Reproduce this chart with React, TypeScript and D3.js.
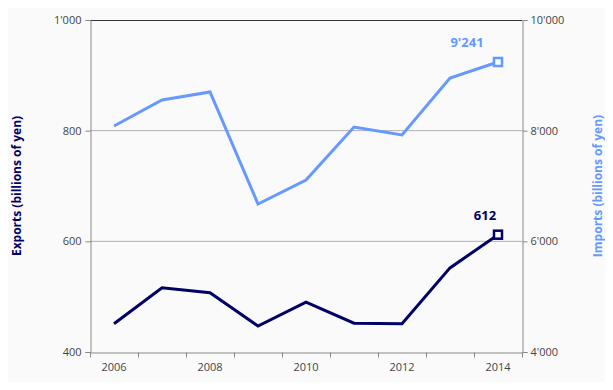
import { useRef, useEffect } from "react";
import * as d3 from "d3";

const years = ["2006", "2007", "2008", "2009", "2010", "2011", "2012", "2013", "2014"];
const exportsVals = [451, 516, 507, 447, 490, 452, 451, 552, 612];
const importsVals = [8084, 8554, 8699, 6675, 7108, 8066, 7922, 8952, 9241];
const leftTicks = [400, 600, 800, 1000];
const rightTicks = [4000, 6000, 8000, 10000];
const xTickLabels = ["2006", "2008", "2010", "2012", "2014"];

const navy = "#000066";
const blue = "#6699ff";

const fmt = (v: number) => {
  const s = String(v);
  return s.length > 3 ? s.slice(0, s.length - 3) + "'" + s.slice(-3) : s;
};

const App = () => {
  const svgRef = useRef<SVGSVGElement>(null);

  useEffect(() => {
    const w = 613;
    const h = 390;
    const m = { top: 20, right: 91, bottom: 38, left: 90 };
    const svg = d3.select(svgRef.current).attr("width", w).attr("height", h);
    svg.selectAll("*").remove();

    svg.append("rect").attr("width", w).attr("height", h).attr("fill", "#fafafa");

    const x = d3.scaleBand().domain(years).range([m.left, w - m.right]);
    const yL = d3.scaleLinear().domain([400, 1000]).range([h - m.bottom, m.top]);
    const yR = d3.scaleLinear().domain([4000, 10000]).range([h - m.bottom, m.top]);
    const font = "'Open Sans', sans-serif";

    // gridlines
    svg
      .append("g")
      .selectAll("line")
      .data([600, 800])
      .join("line")
      .attr("x1", m.left)
      .attr("x2", w - m.right)
      .attr("y1", (d) => yL(d))
      .attr("y2", (d) => yL(d))
      .attr("stroke", "#b0b0b0")
      .attr("stroke-width", 1);

    // top border
    svg
      .append("line")
      .attr("x1", m.left)
      .attr("x2", w - m.right)
      .attr("y1", m.top + 0.5)
      .attr("y2", m.top + 0.5)
      .attr("stroke", "#333");

    const leftAxis = d3.axisLeft(yL).tickValues(leftTicks).tickSize(5).tickFormat((d) => fmt(d as number));
    const gl = svg.append("g").attr("transform", `translate(${m.left + 0.5},0)`).call(leftAxis);
    const rightAxis = d3.axisRight(yR).tickValues(rightTicks).tickSize(5).tickFormat((d) => fmt(d as number));
    const gr = svg.append("g").attr("transform", `translate(${w - m.right + 0.5},0)`).call(rightAxis);

    const xAxis = d3.axisBottom(x).tickSize(0).tickFormat((d) => (xTickLabels.includes(d as string) ? d : ""));
    const gx = svg.append("g").attr("transform", `translate(0,${h - m.bottom + 0.5})`).call(xAxis);
    // boundary ticks
    gx.append("g")
      .selectAll("line")
      .data(years.map((d) => x(d)!).concat([w - m.right]))
      .join("line")
      .attr("x1", (d) => d + 0.5)
      .attr("x2", (d) => d + 0.5)
      .attr("y1", 0)
      .attr("y2", 5)
      .attr("stroke", "#888");

    [gl, gr, gx].forEach((g) => {
      g.select(".domain").attr("stroke", "#888");
      g.selectAll(".tick line").attr("stroke", "#888");
      g.selectAll("text").attr("fill", "#444").style("font-family", font).style("font-size", "11px");
    });
    gx.selectAll(".tick text").attr("dy", "1.4em");
    gl.selectAll(".tick text").attr("dx", "-1px");

    // axis titles
    svg
      .append("text")
      .attr("transform", `translate(21,${(m.top + h - m.bottom) / 2}) rotate(-90)`)
      .attr("text-anchor", "middle")
      .style("font-family", font)
      .style("font-size", "12px")
      .style("font-weight", "bold")
      .attr("fill", navy)
      .text("Exports (billions of yen)");
    svg
      .append("text")
      .attr("transform", `translate(602,${(m.top + h - m.bottom) / 2}) rotate(-90)`)
      .attr("text-anchor", "middle")
      .style("font-family", font)
      .style("font-size", "12px")
      .style("font-weight", "bold")
      .attr("fill", blue)
      .text("Imports (billions of yen)");

    const cx = (d: string) => x(d)! + x.bandwidth() / 2;
    const lineL = d3.line<number>().x((d, i) => cx(years[i])).y((d) => yL(d));
    const lineR = d3.line<number>().x((d, i) => cx(years[i])).y((d) => yR(d));

    svg.append("path").attr("d", lineR(importsVals)).attr("fill", "none").attr("stroke", blue).attr("stroke-width", 3);
    svg.append("path").attr("d", lineL(exportsVals)).attr("fill", "none").attr("stroke", navy).attr("stroke-width", 3);

    const last = years.length - 1;
    const markers = [
      { x: cx(years[last]), y: yR(importsVals[last]), c: blue, t: fmt(importsVals[last]), dx: -31 },
      { x: cx(years[last]), y: yL(exportsVals[last]), c: navy, t: fmt(exportsVals[last]), dx: -13 },
    ];
    markers.forEach((mk) => {
      svg
        .append("rect")
        .attr("x", mk.x - 4)
        .attr("y", mk.y - 4)
        .attr("width", 8)
        .attr("height", 8)
        .attr("fill", "#fff")
        .attr("stroke", mk.c)
        .attr("stroke-width", 2.5);
      svg
        .append("text")
        .attr("x", mk.x + mk.dx)
        .attr("y", mk.y - 15)
        .attr("text-anchor", "middle")
        .style("font-family", font)
        .style("font-size", "13px")
        .style("font-weight", "bold")
        .attr("fill", mk.c)
        .text(mk.t);
    });
  }, []);

  return <svg ref={svgRef} style={{ display: "block", margin: "-8px" }}></svg>;
};

export default App;
